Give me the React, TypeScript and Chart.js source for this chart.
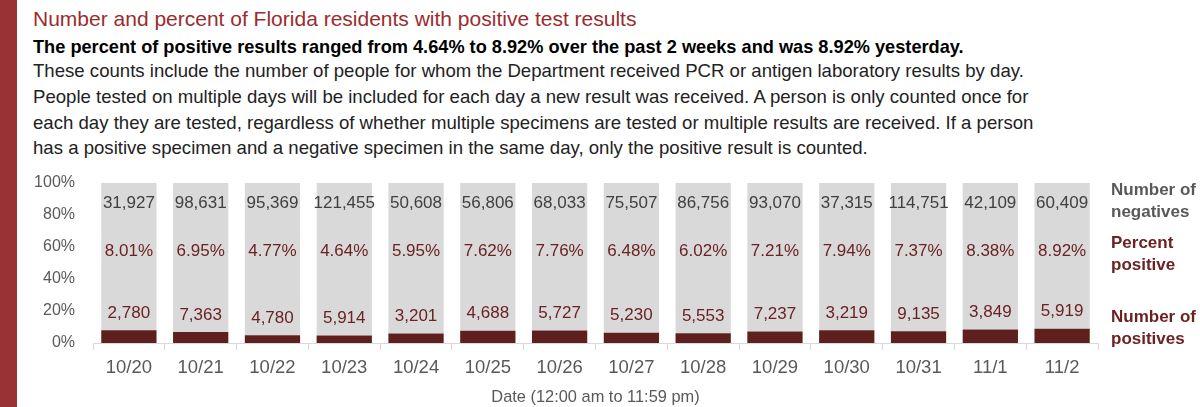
import React, { useRef, useEffect } from "react";
import Chart from "chart.js/auto";

const categories = ["10/20", "10/21", "10/22", "10/23", "10/24", "10/25", "10/26", "10/27", "10/28", "10/29", "10/30", "10/31", "11/1", "11/2"];
const negatives = [31927, 98631, 95369, 121455, 50608, 56806, 68033, 75507, 86756, 93070, 37315, 114751, 42109, 60409];
const positives = [2780, 7363, 4780, 5914, 3201, 4688, 5727, 5230, 5553, 7237, 3219, 9135, 3849, 5919];
const percentPositive = [8.01, 6.95, 4.77, 4.64, 5.95, 7.62, 7.76, 6.48, 6.02, 7.21, 7.94, 7.37, 8.38, 8.92];
const yTicks = [0, 20, 40, 60, 80, 100];

const FONT = "'Liberation Sans', Arial, sans-serif";
const DARK_RED = "#6b2222";
const GREY_TEXT = "#595959";

const labelPlugin = {
  id: "barLabels",
  afterDatasetsDraw(chart: any) {
    const ctx = chart.ctx;
    const y = chart.scales.y;
    const meta = chart.getDatasetMeta(0);
    ctx.save();
    ctx.textAlign = "center";
    ctx.textBaseline = "middle";
    ctx.font = `17px ${FONT}`;
    meta.data.forEach((bar: any, i: number) => {
      ctx.fillStyle = "#404040";
      ctx.fillText(negatives[i].toLocaleString("en-US"), bar.x, y.getPixelForValue(87.5));
      ctx.fillStyle = DARK_RED;
      ctx.fillText(percentPositive[i].toFixed(2) + "%", bar.x, y.getPixelForValue(57.5));
      ctx.fillText(positives[i].toLocaleString("en-US"), bar.x, bar.y - 17);
    });
    // right-hand series names
    const x = chart.chartArea.right + 13;
    ctx.textAlign = "left";
    ctx.font = `600 17px ${FONT}`;
    const names: [string, string, number][] = [
      ["Number of", GREY_TEXT, 20],
      ["negatives", GREY_TEXT, 42],
      ["Percent", DARK_RED, 73],
      ["positive", DARK_RED, 95],
      ["Number of", DARK_RED, 147],
      ["positives", DARK_RED, 169],
    ];
    names.forEach(([t, c, ty]) => {
      ctx.fillStyle = c;
      ctx.fillText(t, x, ty);
    });
    ctx.restore();
  },
};

const PositivityChart = () => {
  const chartRef = useRef<HTMLCanvasElement>(null);
  const chartInstance = useRef<Chart | null>(null);

  useEffect(() => {
    if (chartRef.current) {
      chartInstance.current = new Chart(chartRef.current, {
        type: "bar",
        data: {
          labels: categories,
          datasets: [
            {
              label: "Percent positive",
              data: percentPositive,
              backgroundColor: "#5e1f1f",
              borderWidth: 0,
              barPercentage: 0.77,
              categoryPercentage: 1,
            },
            {
              label: "Percent negative",
              data: percentPositive.map((p) => 100 - p),
              backgroundColor: "#d9d9d9",
              borderWidth: 0,
              barPercentage: 0.77,
              categoryPercentage: 1,
            },
          ],
        },
        options: {
          responsive: false,
          animation: false,
          layout: { padding: { top: 13, right: 102, left: 0, bottom: 0 } },
          plugins: { legend: { display: false }, tooltip: { enabled: false } },
          scales: {
            x: {
              stacked: true,
              grid: { display: true, offset: true, drawOnChartArea: false, tickLength: 7, color: "#d9d9d9" },
              border: { color: "#d9d9d9" },
              ticks: { color: GREY_TEXT, font: { family: FONT, size: 18.5 }, padding: 7 },
              title: {
                display: true,
                text: "Date (12:00 am to 11:59 pm)",
                color: GREY_TEXT,
                font: { family: FONT, size: 16.4 },
                padding: { top: 0, bottom: 0 },
              },
              afterFit: (s: any) => {
                s.height = 64;
                s.paddingLeft = 0;
                s.paddingRight = 0;
              },
            },
            y: {
              stacked: true,
              min: 0,
              max: 100,
              grid: { display: false, drawTicks: false },
              border: { display: false },
              afterBuildTicks: (s: any) => {
                s.ticks = yTicks.map((v) => ({ value: v }));
              },
              ticks: {
                color: GREY_TEXT,
                font: { family: FONT, size: 16 },
                padding: 18,
                callback: (v: any) => v + "%",
              },
              afterFit: (s: any) => {
                s.width = 93;
                s.paddingTop = 0;
                s.paddingBottom = 0;
              },
            },
          },
        },
        plugins: [labelPlugin],
      });
    }
    return () => {
      chartInstance.current?.destroy();
    };
  }, []);

  return <canvas ref={chartRef} width={1200} height={237} style={{ position: "absolute", left: 0, top: 170 }} />;
};

const line = (top: number, size: number, color: string, weight: number, text: string) => (
  <div
    style={{
      position: "absolute",
      left: 33,
      top,
      fontSize: size,
      color,
      fontWeight: weight,
      whiteSpace: "nowrap",
      lineHeight: "26px",
    }}
  >
    {text}
  </div>
);

export default function App() {
  return (
    <div style={{ position: "fixed", left: 0, top: 0, width: 1200, height: 407, background: "#fff", fontFamily: FONT, overflow: "hidden" }}>
      <div style={{ position: "absolute", left: 0, top: 0, width: 17, height: 407, background: "#983234" }} />
      {line(6, 21, "#9b2c2e", 400, "Number and percent of Florida residents with positive test results")}
      {line(34, 18.2, "#000", 700, "The percent of positive results ranged from 4.64% to 8.92% over the past 2 weeks and was 8.92% yesterday.")}
      {line(58, 18.6, "#222", 400, "These counts include the number of people for whom the Department received PCR or antigen laboratory results by day.")}
      {line(84, 18.6, "#222", 400, "People tested on multiple days will be included for each day a new result was received. A person is only counted once for")}
      {line(110, 18.6, "#222", 400, "each day they are tested, regardless of whether multiple specimens are tested or multiple results are received. If a person")}
      {line(135, 18.6, "#222", 400, "has a positive specimen and a negative specimen in the same day, only the positive result is counted.")}
      <PositivityChart />
    </div>
  );
}
